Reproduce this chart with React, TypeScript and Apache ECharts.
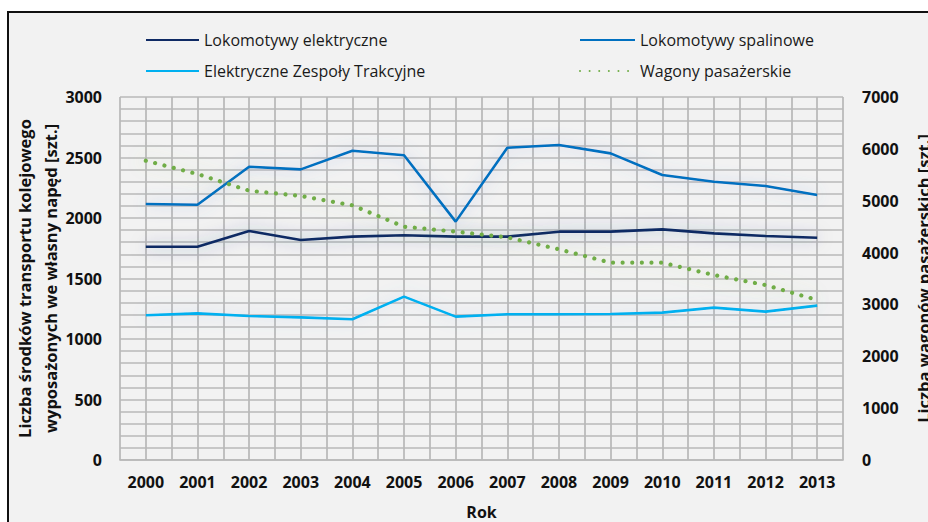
import React, { useEffect, useRef } from "react";
import * as echarts from "echarts";

const years = ["2000", "2001", "2002", "2003", "2004", "2005", "2006", "2007", "2008", "2009", "2010", "2011", "2012", "2013"];
const lokElektryczne = [1763, 1763, 1893, 1818, 1846, 1857, 1846, 1846, 1887, 1887, 1906, 1873, 1851, 1837];
const lokSpalinowe = [2116, 2110, 2424, 2402, 2556, 2518, 1970, 2581, 2603, 2534, 2355, 2300, 2264, 2190];
const ezt = [1196, 1212, 1190, 1179, 1163, 1350, 1185, 1204, 1204, 1207, 1218, 1259, 1226, 1276];
const wagony = [5772, 5515, 5193, 5091, 4911, 4499, 4403, 4294, 4063, 3805, 3805, 3567, 3374, 3085];

const FONT = "'Open Sans', 'Noto Sans', sans-serif";
const GRID_COLOR = "#b8b8b8";
const GRID_W = 1.7;
const plain = (v: number) => String(v);

export default function App() {
  const ref = useRef<HTMLDivElement>(null);
  useEffect(() => {
    if (!ref.current) return;
    const chart = echarts.init(ref.current, null, { renderer: "svg" });
    const lineSeries = (name: string, data: number[], color: string, glow: string, yAxisIndex = 0, dotted = false) => ({
      name,
      type: "line",
      data,
      xAxisIndex: 0,
      yAxisIndex,
      symbol: "none",
      z: dotted ? 4 : 3,
      lineStyle: {
        color,
        width: dotted ? 4.2 : 2.6,
        type: dotted ? [0.01, 9.6] : "solid",
        cap: dotted ? "round" : "butt",
        shadowBlur: 16,
        shadowColor: glow,
      },
      itemStyle: { color },
    });
    const legendBase = {
      top: 27,
      orient: "vertical",
      itemHeight: 14,
      itemGap: 15,
      itemStyle: { opacity: 0 },
      textStyle: { fontFamily: FONT, fontSize: 16, color: "#1a1a1a", padding: [0, 0, 0, 0] },
    };
    chart.setOption({
      animation: false,
      backgroundColor: "transparent",
      textStyle: { fontFamily: FONT },
      grid: { left: 120, top: 97, width: 723, height: 363, containLabel: false, outerBoundsMode: "none" },
      legend: [
        {
          ...legendBase,
          left: 140,
          itemWidth: 53,
          data: ["Lokomotywy elektryczne", "Elektryczne Zespoły Trakcyjne"],
        },
        {
          ...legendBase,
          left: 574,
          itemWidth: 55,
          data: ["Lokomotywy spalinowe", "Wagony pasażerskie"],
        },
      ],
      xAxis: [
        {
          type: "category",
          data: years,
          boundaryGap: true,
          name: "Rok",
          nameLocation: "middle",
          nameGap: 44,
          nameTextStyle: { fontFamily: FONT, fontSize: 16, fontWeight: "bold", color: "#111" },
          axisLine: { show: true, lineStyle: { color: GRID_COLOR, width: GRID_W } },
          axisTick: { show: false },
          axisLabel: { margin: 14, fontFamily: FONT, fontSize: 16, fontWeight: "bold", color: "#111" },
          splitLine: { show: false },
        },
        {
          type: "value",
          position: "top",
          min: 0,
          max: 28,
          interval: 1,
          axisLine: { show: false },
          axisTick: { show: false },
          axisLabel: { show: false },
          splitLine: { show: true, lineStyle: { color: GRID_COLOR, width: GRID_W } },
        },
      ],
      yAxis: [
        {
          type: "value",
          min: 0,
          max: 3000,
          interval: 500,
          name: "Liczba środków transportu kolejowego\nwyposażonych we własny napęd [szt.]",
          nameLocation: "middle",
          nameRotate: 90,
          nameGap: 57,
          nameMoveOverlap: false,
          nameTextStyle: { fontFamily: FONT, fontSize: 16.5, fontWeight: "bold", color: "#111", lineHeight: 26 },
          axisLine: { show: false },
          axisTick: { show: false },
          axisLabel: { margin: 18, fontFamily: FONT, fontSize: 16, fontWeight: "bold", color: "#111", formatter: plain },
          splitLine: { show: true, lineStyle: { color: GRID_COLOR, width: GRID_W } },
          minorTick: { show: false, splitNumber: 5 },
          minorSplitLine: { show: true, lineStyle: { color: GRID_COLOR, width: GRID_W } },
        },
        {
          type: "value",
          min: 0,
          max: 7000,
          interval: 1000,
          position: "right",
          name: "Liczba wagonów pasażerskich [szt.]",
          nameLocation: "middle",
          nameRotate: 90,
          nameGap: 72,
          nameMoveOverlap: false,
          nameTextStyle: { fontFamily: FONT, fontSize: 16.5, fontWeight: "bold", color: "#111" },
          axisLine: { show: false },
          axisTick: { show: false },
          axisLabel: { margin: 19, fontFamily: FONT, fontSize: 16, fontWeight: "bold", color: "#111", formatter: plain },
          splitLine: { show: false },
        },
      ],
      series: [
        lineSeries("Lokomotywy elektryczne", lokElektryczne, "#0f2a64", "rgba(40,60,120,0.5)"),
        lineSeries("Lokomotywy spalinowe", lokSpalinowe, "#0070c0", "rgba(100,130,210,0.45)"),
        lineSeries("Elektryczne Zespoły Trakcyjne", ezt, "#00b0f0", "rgba(100,150,220,0.35)"),
        lineSeries("Wagony pasażerskie", wagony, "#70ad47", "rgba(150,200,100,0.5)", 1, true),
      ],
    });
    return () => chart.dispose();
  }, []);
  return (
    <div style={{ position: "fixed", left: 0, top: 0, width: 928, height: 522, background: "#fff", overflow: "hidden" }}>
      <div
        style={{
          position: "absolute",
          left: 7,
          top: 11,
          width: 960,
          height: 560,
          border: "2px solid #111",
          background: "#f2f2f2",
        }}
      />
      <div ref={ref} style={{ position: "absolute", left: 0, top: 0, width: 928, height: 522 }} />
    </div>
  );
}
